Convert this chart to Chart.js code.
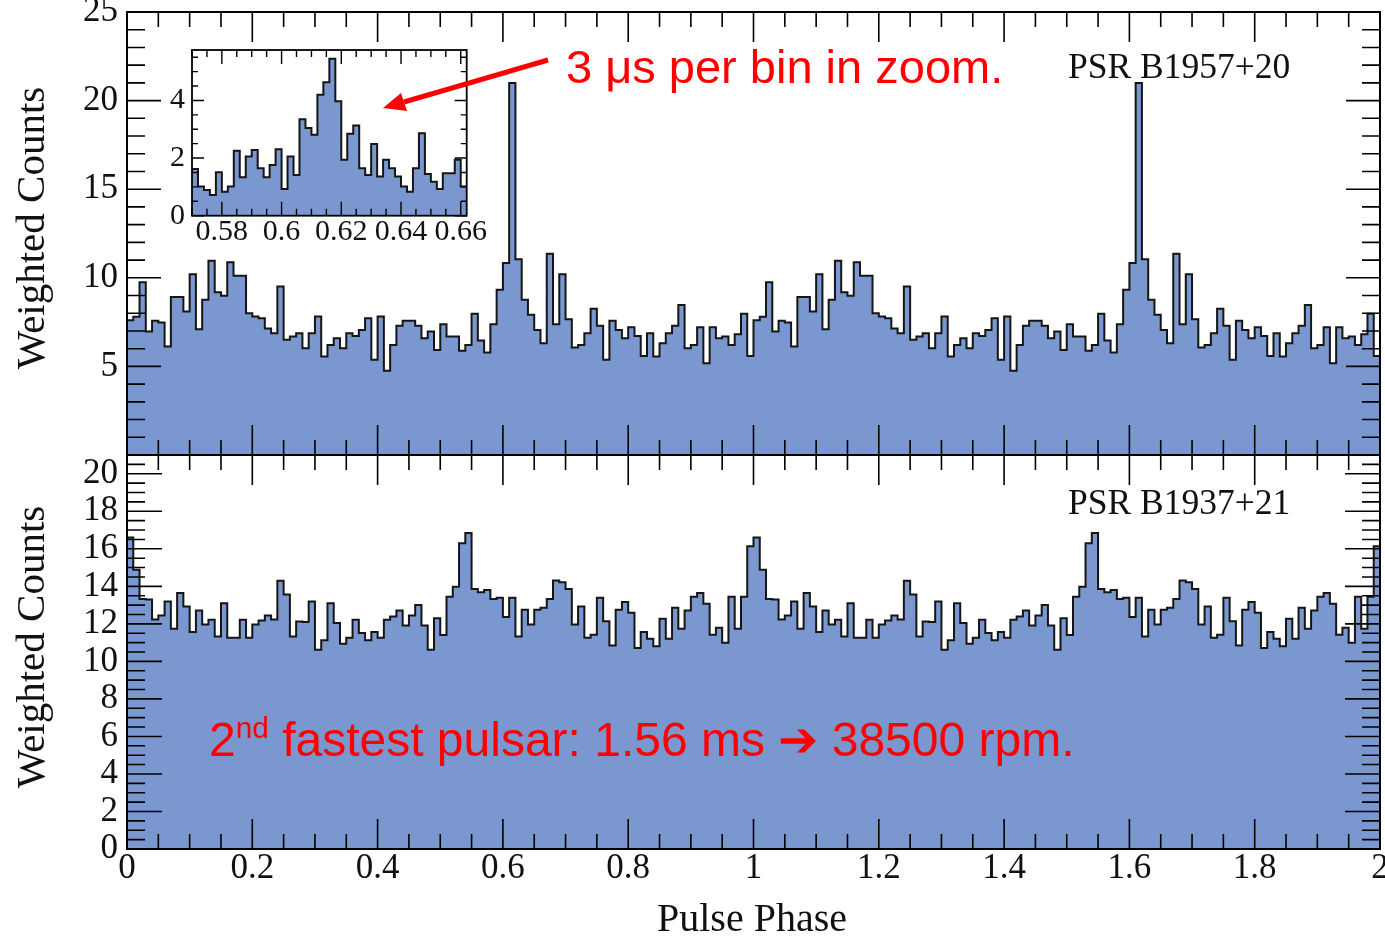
<!DOCTYPE html>
<html>
<head>
<meta charset="utf-8">
<script src="https://cdn.jsdelivr.net/npm/chart.js@4.4.1/dist/chart.umd.min.js"></script>
<style>
  body { margin: 0; background: #fff; width: 1385px; height: 938px; overflow: hidden; position: relative; }
  canvas { position: absolute; }
  .serif { font-family: 'Liberation Serif', 'Times New Roman', serif; color: #111; position: absolute; white-space: nowrap; line-height: 1; }
  .ytitle { font-size: 41px; transform: translate(-50%, -50%) rotate(-90deg); }
  .red { font-family: 'Liberation Sans', Arial, sans-serif; color: #ff0000; position: absolute; white-space: nowrap; line-height: 1; }
  .red sup { font-size: 0.62em; vertical-align: 0.62em; line-height: 0; }
  svg { position: absolute; left: 0; top: 0; }
</style>
</head>
<body>
<canvas id="topChart" width="1385" height="470" style="left:0;top:0"></canvas>
<canvas id="bottomChart" width="1385" height="488" style="left:0;top:450px"></canvas>
<canvas id="insetChart" width="360" height="220" style="left:140px;top:40px"></canvas>

<div class="serif ytitle" style="left:30px;top:228px">Weighted Counts</div>
<div class="serif ytitle" style="left:30px;top:647px">Weighted Counts</div>
<div class="serif" style="left:752px;top:898px;font-size:40px;transform:translateX(-50%)">Pulse Phase</div>
<div class="serif" style="left:1068px;top:49px;font-size:35.5px">PSR B1957+20</div>
<div class="serif" style="left:1068px;top:485px;font-size:35.5px">PSR B1937+21</div>

<div class="red" style="left:566px;top:43px;font-size:47px">3 μs per bin in zoom.</div>
<div class="red" style="left:209px;top:716px;font-size:48px">2<sup>nd</sup> fastest pulsar: 1.56 ms ➔ 38500 rpm.</div>

<svg width="1385" height="938">
  <line x1="548" y1="60" x2="404" y2="102" stroke="#ff0000" stroke-width="5"/>
  <polygon points="383,108 407,111 401,93" fill="#ff0000"/>
</svg>

<script>
// Data: counts per phase bin, one pulse cycle (the plot shows two cycles)
const binsPerCycle = 100;
const cycles = 2;

const countsB1957 = [
  7.6, 7.8, 9.75, 6.97, 7.57, 7.48, 6.12, 8.91, 8.91, 8.1,
  10.2, 7.1, 8.76, 10.96, 9.19, 8.98, 10.88, 10.11, 10.11, 8.0,
  7.82, 7.72, 7.14, 6.87, 9.51, 6.5, 6.69, 6.87, 6.03, 6.87,
  7.82, 5.56, 6.21, 6.59, 6.03, 6.87, 6.72, 7.06, 7.72, 5.37,
  7.82, 4.75, 6.21, 7.29, 7.57, 7.57, 7.29, 6.59, 6.97, 5.93,
  7.38, 6.69, 6.69, 5.88, 6.21, 7.97, 6.46, 5.78, 7.38, 9.32,
  10.83, 21.0, 11.05, 8.76, 7.91, 7.06, 6.31, 11.36, 7.38, 10.2,
  7.66, 6.06, 6.21, 6.87, 8.25, 7.29, 5.37, 7.57, 7.06, 6.59,
  7.21, 6.72, 5.59, 6.87, 5.56, 6.31, 6.87, 7.29, 8.47, 6.03,
  6.21, 7.21, 5.18, 7.21, 6.59, 6.69, 6.21, 6.82, 7.97, 5.59
];

const countsB1937 = [
  16.6, 14.89, 13.33, 13.3, 12.23, 12.44, 13.19, 11.74, 13.65, 12.93,
  11.56, 12.71, 11.97, 12.22, 11.33, 13.1, 11.26, 11.26, 12.22, 11.26,
  11.97, 12.18, 12.44, 12.23, 14.3, 13.56, 11.33, 12.13, 12.1, 13.19,
  10.62, 11.12, 13.1, 12.04, 10.94, 11.26, 12.22, 11.51, 11.12, 11.56,
  11.26, 12.22, 12.39, 12.71, 11.91, 12.44, 13.01, 11.91, 10.62, 12.3,
  11.4, 13.45, 13.98, 16.3, 16.84, 13.86, 13.69, 13.81, 13.33, 13.39,
  12.36, 13.39, 11.33, 12.75, 11.97, 12.75, 12.86, 13.33, 14.31, 14.22,
  13.86, 11.97, 12.93, 11.26, 11.42, 13.39, 12.14, 10.85, 12.75, 13.16,
  12.59, 10.71, 11.56, 11.21, 10.8, 12.27, 11.21, 12.86, 11.74, 12.71,
  13.45, 13.65, 13.07, 11.42, 11.79, 10.99, 13.45, 11.74, 13.45, 16.13
];

// zoom on the B1957+20 main peak, 0.57 - 0.662 in phase
const zoomStart = 0.57;
const zoomBinWidth = 0.002;
const countsZoom = [
  1.62, 1.01, 0.89, 0.72, 1.51, 0.83, 1.01, 2.25, 1.33, 2.05,
  2.28, 1.65, 1.33, 1.76, 2.31, 0.93, 2.05, 1.41, 3.35, 3.04,
  2.81, 4.20, 4.63, 5.45, 3.97, 1.94, 2.84, 3.13, 1.65, 1.41,
  2.49, 1.36, 1.94, 1.65, 1.36, 1.01, 0.83, 1.65, 2.86, 1.45,
  1.18, 0.93, 1.47, 1.47, 1.94, 1.01
];

const mainTicksX = { min: 0, max: 2, step: 0.2 };
const topTicksY = { min: 0, max: 25, step: 5 };
const bottomTicksY = { min: 0, max: 21, step: 2 };
const zoomTicksX = { min: 0.57, max: 0.662, step: 0.02 };
const zoomTicksY = { min: 0, max: 5.75, step: 2 };

// turn bin contents into step points (left edge of each bin + closing edge)
function histPoints(values, x0, width, repeat) {
  var pts = [];
  for (var r = 0; r < repeat; r++) {
    values.forEach(function(v, i) {
      pts.push({ x: x0 + (r * values.length + i) * width, y: v });
    });
  }
  pts.push({ x: x0 + repeat * values.length * width, y: values[values.length - 1] });
  return pts;
}

function fmt(v) { return String(+v.toFixed(3)); }

// ROOT-like frame with inward ticks on all four sides
const frameTicks = {
  id: 'frameTicks',
  afterDraw(chart, args, o) {
    const ctx = chart.ctx, a = chart.chartArea;
    const xs = chart.scales.x, ys = chart.scales.y;
    function eachTick(scale, minor, major, fn) {
      var k0 = Math.ceil(scale.min / minor - 1e-6), k1 = Math.floor(scale.max / minor + 1e-6);
      for (var k = k0; k <= k1; k++) {
        var v = k * minor;
        var big = Math.abs(v / major - Math.round(v / major)) < 1e-6;
        fn(scale.getPixelForValue(v), big);
      }
    }
    ctx.save();
    ctx.strokeStyle = '#000';
    ctx.lineWidth = o.tickWidth;
    ctx.beginPath();
    eachTick(xs, o.xMinor, o.xMajor, function(px, big) {
      var L = big ? o.xLong : o.xShort;
      ctx.moveTo(px, a.bottom); ctx.lineTo(px, a.bottom - L);
      ctx.moveTo(px, a.top); ctx.lineTo(px, a.top + L);
    });
    eachTick(ys, o.yMinor, o.yMajor, function(py, big) {
      var L = big ? o.yLong : o.yShort;
      ctx.moveTo(a.left, py); ctx.lineTo(a.left + L, py);
      ctx.moveTo(a.right, py); ctx.lineTo(a.right - L, py);
    });
    ctx.stroke();
    ctx.lineWidth = o.frameWidth;
    ctx.strokeRect(a.left, a.top, a.right - a.left, a.bottom - a.top);
    ctx.restore();
  }
};

const serif = "'Liberation Serif', 'Times New Roman', serif";
const fillBlue = 'rgb(122,152,207)';

function histDataset(points) {
  return {
    data: points,
    stepped: 'before',
    borderColor: '#151515',
    borderWidth: 2,
    backgroundColor: fillBlue,
    fill: 'origin',
    pointRadius: 0
  };
}

function makeChart(id, points, xt, yt, opts) {
  return new Chart(document.getElementById(id), {
    type: 'line',
    data: { datasets: [histDataset(points)] },
    plugins: [frameTicks],
    options: {
      responsive: false,
      animation: false,
      devicePixelRatio: 1,
      layout: { padding: opts.padding },
      plugins: {
        legend: { display: false },
        tooltip: { enabled: false },
        frameTicks: opts.ticks
      },
      scales: {
        x: {
          type: 'linear',
          display: opts.showX,
          min: xt.min, max: xt.max,
          grid: { display: false, drawTicks: false },
          border: { display: false },
          ticks: {
            stepSize: xt.step, includeBounds: false, autoSkip: false, maxRotation: 0,
            padding: opts.xPad, color: '#111',
            font: { family: serif, size: opts.fontSize, lineHeight: 1 },
            callback: fmt
          },
          afterFit: function(s) { s.height = opts.xHeight; s.paddingLeft = 0; s.paddingRight = 0; }
        },
        y: {
          min: yt.min, max: yt.max,
          grid: { display: false, drawTicks: false },
          border: { display: false },
          ticks: {
            stepSize: yt.step, includeBounds: false, autoSkip: false,
            padding: opts.yPad, color: '#111',
            font: { family: serif, size: opts.fontSize, lineHeight: 1 },
            callback: function(v) { return (opts.hideZero && v === 0) ? '' : fmt(v); }
          },
          afterFit: function(s) { s.width = opts.yWidth; s.paddingTop = 0; s.paddingBottom = 0; }
        }
      }
    }
  });
}

// top panel: PSR B1957+20
makeChart('topChart', histPoints(countsB1957, 0, 1 / binsPerCycle, cycles), mainTicksX, topTicksY, {
  padding: { top: 12, right: 5, bottom: 15, left: 0 },
  showX: false, xHeight: 0, xPad: 0, yWidth: 127, yPad: 9, fontSize: 35, hideZero: true,
  ticks: { xMinor: 0.05, xMajor: 0.2, xShort: 15, xLong: 30, yMinor: 1, yMajor: 5, yShort: 18, yLong: 34, tickWidth: 1.6, frameWidth: 2 }
});

// bottom panel: PSR B1937+21
makeChart('bottomChart', histPoints(countsB1937, 0, 1 / binsPerCycle, cycles), mainTicksX, bottomTicksY, {
  padding: { top: 5, right: 5, bottom: 0, left: 0 },
  showX: true, xHeight: 89, xPad: 2, yWidth: 127, yPad: 9, fontSize: 35, hideZero: false,
  ticks: { xMinor: 0.05, xMajor: 0.2, xShort: 15, xLong: 30, yMinor: 0.5, yMajor: 2, yShort: 18, yLong: 35, tickWidth: 1.6, frameWidth: 2 }
});

// inset zoom
makeChart('insetChart', histPoints(countsZoom, zoomStart, zoomBinWidth, 1), zoomTicksX, zoomTicksY, {
  padding: { top: 10, right: 33.3, bottom: 0, left: 0 },
  showX: true, xHeight: 44.3, xPad: 1, yWidth: 52, yPad: 7, fontSize: 30, hideZero: false,
  ticks: { xMinor: 0.005, xMajor: 0.02, xShort: 7, xLong: 14, yMinor: 0.5, yMajor: 2, yShort: 6, yLong: 12, tickWidth: 1.4, frameWidth: 1.8 }
});
</script>
</body>
</html>
